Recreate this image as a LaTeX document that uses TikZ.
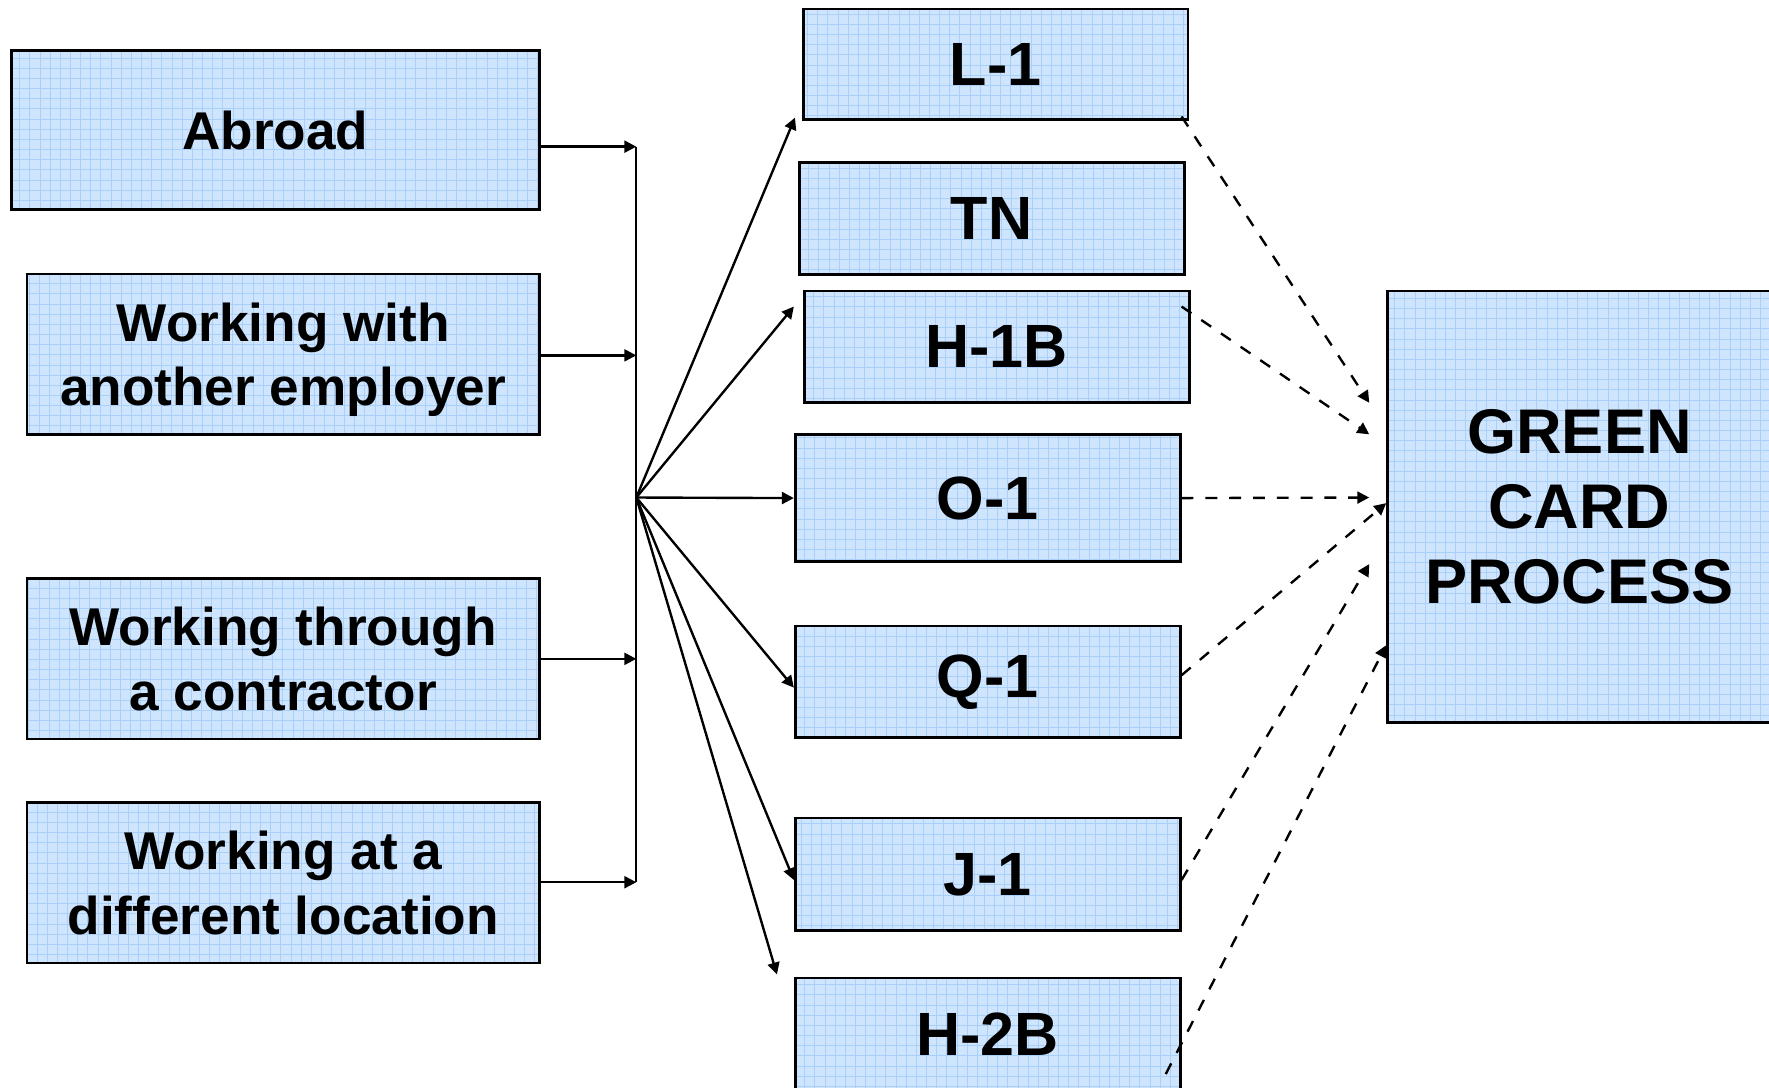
\documentclass[tikz,border=0pt]{standalone}
\usepackage{fontspec}
\setmainfont{Liberation Sans}
\usepackage{xcolor}
\usepackage{tikz}
\usetikzlibrary{arrows.meta, calc}
\definecolor{boxblue}{RGB}{206,229,253}
\definecolor{gridblue}{RGB}{168,208,248}

\tikzset{
  card/.style={draw, line width=0.7pt, fill=boxblue, inner sep=0pt, align=center,
    path picture={\draw[gridblue, line width=0.25pt, step=0.09cm]
      (path picture bounding box.south west) grid (path picture bounding box.north east);}},
  source/.style={card, minimum width=4.54cm, minimum height=1.42cm, text depth=0pt,
    font=\fontsize{13.4}{16.2}\selectfont\bfseries},
  visa/.style={card, minimum width=3.41cm, minimum height=0.99cm,
    font=\fontsize{15.4}{18}\selectfont\bfseries},
  link/.style={line width=0.6pt, -{Triangle[length=3pt, width=3pt]}},
  flow/.style={link, dashed}
}

\begin{document}
\begin{tikzpicture}[x=0.01cm, y=-0.01cm]
            \useasboundingbox (0,0) rectangle (1568,964);
            % where the worker is now
            \node[source, minimum width=4.68cm, minimum height=1.41cm] (abroad) at (244,115.5) {Abroad};
            \node[source] (other) at (251,314) {Working with\\another employer};
            \node[source] (contractor) at (251,584) {Working through\\a contractor};
            \node[source] (location) at (251,782.5) {Working at a\\different location};
            % visas
            \node[visa, minimum height=0.98cm] (l1) at (882.5,57) {L-1};
            \node[visa] (tn) at (879,193.5) {TN};
            \node[visa] (h1b) at (883.5,307.5) {H-1B};
            \node[visa, minimum height=1.13cm] (o1) at (875.5,441.5) {O-1};
            \node[visa] (q1) at (875.5,604.5) {Q-1};
            \node[visa, minimum height=1.00cm] (j1) at (875.5,775) {J-1};
            \node[visa, minimum height=1.00cm] (h2b) at (875.5,917) {H-2B};
            \node[card, minimum width=3.40cm, minimum height=3.82cm,
                  font=\fontsize{15.9}{18.9}\selectfont\bfseries] (gc) at (1400,449) {GREEN\\CARD\\PROCESS};
            % bus
            \coordinate (b1) at (564,130);
            \coordinate (b2) at (564,315);
            \coordinate (b3) at (564,584);
            \coordinate (b4) at (564,782);
            \coordinate (hub) at (564,441);
            \draw[line width=0.6pt] (b1) -- (b4);
            \draw[link] (abroad.east |- b1) -- (b1);
            \draw[link] (other.east |- b2) -- (b2);
            \draw[link] (contractor.east |- b3) -- (b3);
            \draw[link] (location.east |- b4) -- (b4);
            % to the visas
            \draw[link] (hub) -- ([shift={(-6,-3)}]l1.south west);
            \draw[link] (hub) -- ([shift={(-8,15)}]h1b.north west);
            \draw[link] (hub) -- (o1.west);
            \draw[link] (hub) -- ([shift={(0,5)}]q1.west);
            \draw[link] (hub) -- ([shift={(0,5)}]j1.west);
            \draw[link] (hub) -- ([shift={(-15,-2)}]h2b.north west);
            % to the green card
            \draw[flow] ([shift={(-7,-4)}]l1.south east) -- ([shift={(-15,-92)}]gc.west);
            \draw[flow] ([shift={(-8,15)}]h1b.north east) -- ([shift={(-15,-64)}]gc.west);
            \draw[flow] (o1.east) -- ([shift={(-15,-8)}]gc.west);
            \draw[flow] ([shift={(0,-6)}]q1.east) -- ([shift={(0,-3)}]gc.west);
            \draw[flow] ([shift={(0,5)}]j1.east) -- ([shift={(-15,51)}]gc.west);
            \draw[flow] ([shift={(-14,35)}]h2b.east) -- ([shift={(0,123)}]gc.west);
\end{tikzpicture}
\end{document}
